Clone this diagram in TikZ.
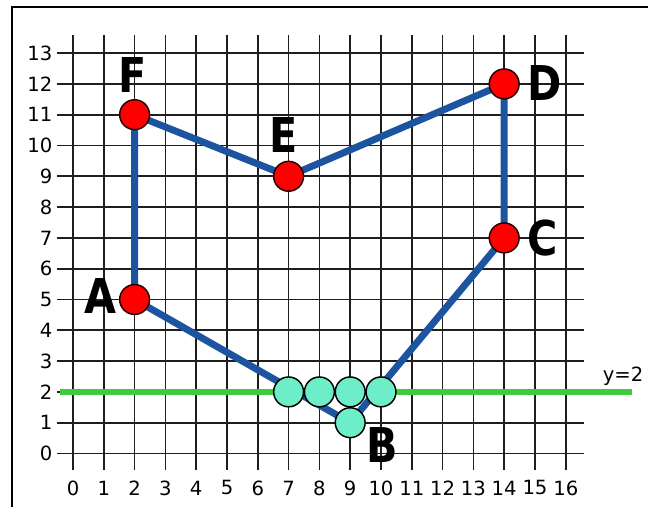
\documentclass[tikz,border=0pt]{standalone}
\usepackage{fontspec}
\setmainfont{DejaVu Sans}
\newfontfamily\labfont[FakeStretch=0.86]{DejaVu Sans}
\definecolor{gridc}{RGB}{30,30,30}
\definecolor{bluec}{RGB}{28,84,160}
\definecolor{greenc}{RGB}{62,204,62}
\definecolor{tealc}{RGB}{110,238,200}
\begin{document}
\begin{tikzpicture}[x=23.1pt,y=23.1pt,
  gridline/.style={draw=gridc,line width=1.25pt},
  tick/.style={font=\fontsize{14.7}{14.7}\selectfont,inner sep=0pt},
  blueline/.style={draw=bluec,line width=5.2pt,line join=round},
  greenline/.style={draw=greenc,line width=5pt},
  redpt/.style={circle,draw=black!85!red,line width=1.1pt,fill=red,minimum size=22.4pt,inner sep=0pt},
  tealpt/.style={circle,draw=black,line width=1.1pt,fill=tealc,minimum size=22.4pt,inner sep=0pt},
  lab/.style={font=\labfont\bfseries\fontsize{36}{36}\selectfont,inner sep=0pt}]
\useasboundingbox (-2.370,-1.705) rectangle (18.669,14.724);
\draw[line width=1.5pt] (-1.98,-3) rectangle (20,14.5);
% grid
\foreach \i in {0,...,16} \draw[gridline] (\i,-0.54) -- (\i,13.6);
\foreach \j in {0,...,13} \draw[gridline] (-0.52,\j) -- (16.6,\j);
% tick labels
\foreach \i in {0,...,16} \node[tick] (xt\i) at (\i,-1.12) {\i};
\foreach \j in {0,...,13} \node[tick,anchor=east] (yt\j) at (-0.66,\j) {\j};
% green line
\coordinate (gL) at (-0.42,2);
\coordinate (gR) at (18.15,2);
\draw[greenline] (gL) -- (gR);
\node[tick] (ylab) at (17.86,2.52) {y=2};
% polygon
\coordinate (A) at (2,5);
\coordinate (B) at (9,1);
\coordinate (C) at (14,7);
\coordinate (D) at (14,12);
\coordinate (E) at (7,9);
\coordinate (F) at (2,11);
\draw[blueline] (A) -- (B) -- (C) -- (D) -- (E) -- (F) -- cycle;
% points
\node[redpt] (pA) at (A) {};
\node[redpt] (pC) at (C) {};
\node[redpt] (pD) at (D) {};
\node[redpt] (pE) at (E) {};
\node[redpt] (pF) at (F) {};
\node[tealpt] (t7) at (7,2) {};
\node[tealpt] (t8) at (8,2) {};
\node[tealpt] (t9) at (9,2) {};
\node[tealpt] (t10) at (10,2) {};
\node[tealpt] (pB) at (B) {};
% letters
\node[lab] (lA) at (0.88,5.1) {A};
\node[lab] (lB) at (10.03,0.28) {B};
\node[lab] (lC) at (15.26,7.0) {C};
\node[lab] (lD) at (15.3,12.03) {D};
\node[lab] (lE) at (6.85,10.34) {E};
\node[lab] (lF) at (1.92,12.29) {F};
\end{tikzpicture}
\end{document}
